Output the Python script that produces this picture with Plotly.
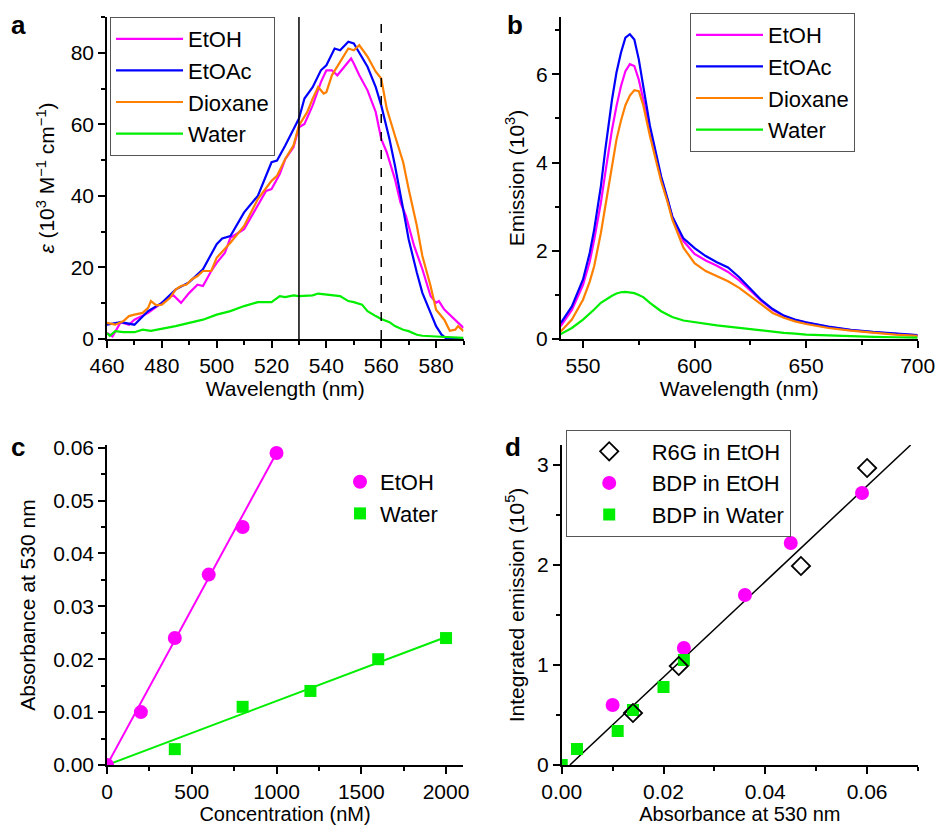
import plotly.graph_objects as go

# ---------------- Panel a: absorption spectra ----------------
a_etoac_x = [460, 465, 470, 475, 480, 485, 490, 495, 500, 502, 505, 510, 515, 520, 522, 525, 530, 532, 535, 538, 540, 543, 545, 548, 550, 553, 555, 558, 560, 563, 565, 568, 570, 573, 575, 578, 580, 582, 584, 587, 590]
a_etoac_y = [4.0, 4.7, 4.0, 7.8, 10.1, 13.8, 15.9, 19.5, 26.5, 28.1, 28.8, 35.4, 40.0, 49.4, 49.9, 54.1, 61.6, 67.2, 70.4, 75.1, 76.5, 81.2, 80.7, 83.1, 82.6, 78.9, 76.1, 70.4, 65.3, 55.9, 48.5, 36.3, 27.9, 18.5, 12.9, 7.3, 3.6, 1.2, 0.0, 0.0, 0.0]

a_etoh_x = [460, 462, 465, 468, 470, 475, 480, 484, 487, 490, 493, 495, 498, 500, 503, 505, 510, 515, 518, 520, 523, 525, 528, 530, 532, 535, 538, 540, 542, 544, 546, 549, 550, 552, 555, 558, 560, 562, 565, 567, 569, 572, 575, 578, 580, 581, 583, 585, 587, 590]
a_etoh_y = [1.7, 0.7, 4.7, 4.0, 5.4, 7.3, 10.1, 12.4, 10.1, 12.9, 15.2, 14.8, 19.0, 21.3, 24.1, 28.3, 30.7, 37.2, 41.4, 41.9, 46.1, 50.3, 53.6, 59.2, 60.1, 65.3, 71.8, 75.1, 75.1, 73.7, 75.6, 78.4, 77.0, 73.7, 69.5, 63.4, 55.9, 52.2, 44.7, 38.2, 34.4, 26.0, 19.5, 12.0, 10.1, 10.6, 8.2, 6.8, 5.4, 3.1]

a_diox_x = [460, 463, 466, 468, 470, 473, 475, 476, 478, 480, 483, 485, 487, 489, 491, 493, 495, 498, 500, 505, 510, 515, 520, 522, 525, 528, 530, 533, 535, 537, 539, 540, 542, 545, 548, 550, 552, 555, 558, 560, 562, 565, 568, 570, 573, 575, 578, 580, 583, 585, 587, 588, 590]
a_diox_y = [4.5, 4.0, 5.0, 6.4, 6.8, 7.3, 8.7, 10.6, 9.4, 9.6, 11.5, 13.8, 14.8, 15.2, 16.7, 17.6, 19.0, 19.0, 22.7, 26.9, 31.6, 39.1, 44.2, 45.6, 50.3, 54.1, 59.7, 63.4, 67.2, 70.4, 68.6, 69.0, 73.7, 77.5, 81.2, 80.7, 82.1, 78.9, 74.7, 72.8, 64.4, 56.8, 49.4, 41.9, 31.6, 23.2, 14.8, 8.2, 5.4, 2.3, 2.6, 3.6, 2.2]

a_water_x = [460, 461, 463, 466, 470, 473, 476, 480, 485, 490, 495, 500, 505, 510, 515, 520, 523, 525, 528, 530, 535, 537, 540, 545, 548, 550, 553, 555, 558, 560, 563, 565, 568, 570, 573, 575, 580, 585, 590]
a_water_y = [1.7, 0.9, 2.2, 1.9, 1.9, 2.6, 2.3, 2.8, 3.6, 4.5, 5.4, 6.8, 7.8, 9.2, 10.3, 10.3, 12.0, 11.7, 12.2, 12.0, 12.2, 12.7, 12.4, 12.0, 10.6, 10.3, 9.6, 7.8, 6.4, 5.6, 4.7, 3.6, 2.6, 2.2, 1.2, 0.9, 0.7, 0.6, 0.3]

a_excitation_lines = [530, 560]   # solid, dashed

# ---------------- Panel b: emission spectra ----------------
b_x = [540, 545, 550, 553, 555, 558, 560, 563, 565, 567, 569, 571, 573, 575, 577, 580, 583, 585, 588, 590, 595, 600, 605, 610, 615, 620, 625, 630, 635, 640, 645, 650, 660, 670, 680, 690, 700]
b_etoac = [0.36, 0.74, 1.35, 1.95, 2.48, 3.46, 4.30, 5.43, 6.04, 6.49, 6.83, 6.91, 6.79, 6.34, 5.73, 4.83, 4.15, 3.69, 3.16, 2.78, 2.28, 2.06, 1.88, 1.74, 1.62, 1.40, 1.14, 0.88, 0.68, 0.53, 0.44, 0.38, 0.28, 0.21, 0.16, 0.12, 0.09]
b_etoh = [0.29, 0.66, 1.23, 1.75, 2.25, 3.09, 3.77, 4.75, 5.28, 5.73, 6.07, 6.23, 6.19, 5.88, 5.43, 4.67, 4.07, 3.65, 3.12, 2.78, 2.22, 1.93, 1.78, 1.66, 1.52, 1.33, 1.10, 0.86, 0.66, 0.52, 0.43, 0.37, 0.27, 0.20, 0.15, 0.11, 0.08]
b_diox = [0.17, 0.44, 0.89, 1.30, 1.65, 2.40, 3.01, 3.92, 4.52, 4.95, 5.30, 5.52, 5.64, 5.62, 5.30, 4.60, 3.99, 3.58, 3.09, 2.71, 2.07, 1.72, 1.54, 1.42, 1.31, 1.16, 0.97, 0.78, 0.59, 0.48, 0.40, 0.34, 0.25, 0.19, 0.14, 0.10, 0.07]
b_water = [0.11, 0.25, 0.44, 0.57, 0.67, 0.82, 0.89, 0.98, 1.03, 1.06, 1.07, 1.06, 1.04, 1.00, 0.95, 0.82, 0.70, 0.63, 0.55, 0.50, 0.42, 0.38, 0.34, 0.31, 0.28, 0.25, 0.22, 0.19, 0.16, 0.14, 0.12, 0.10, 0.08, 0.06, 0.05, 0.04, 0.03]

# ---------------- Panel c: absorbance vs concentration ----------------
c_etoh_conc = [0, 200, 400, 600, 800, 1000]
c_etoh_abs = [0.0, 0.010, 0.024, 0.036, 0.045, 0.059]
c_water_conc = [400, 800, 1200, 1600, 2000]
c_water_abs = [0.003, 0.011, 0.014, 0.020, 0.024]
c_etoh_slope = 5.9e-5
c_water_slope = 1.21e-5

# ---------------- Panel d: integrated emission vs absorbance ----------------
d_r6g_abs = [0.014, 0.023, 0.047, 0.060]
d_r6g_em = [0.52, 0.99, 1.99, 2.97]
d_bdp_etoh_abs = [0.010, 0.024, 0.036, 0.045, 0.059]
d_bdp_etoh_em = [0.60, 1.17, 1.70, 2.22, 2.72]
d_bdp_water_abs = [0.0, 0.003, 0.011, 0.014, 0.020, 0.024]
d_bdp_water_em = [0.0, 0.16, 0.34, 0.55, 0.78, 1.05]
d_fit_slope = 47.8
d_fit_intercept = -0.077

MAG = "#FF00FF"
BLUE = "#0000FF"
ORANGE = "#FF8000"
GREEN = "#00EE00"
FONT = "Liberation Sans, Arial, sans-serif"

W, H = 938, 826
MB = 20                 # bottom margin (room for bottom axis titles)
PH = H - MB             # plot-area height


def dx(p0, p1):
    return [p0 / W, p1 / W]


def dy(top, bottom):
    return [(PH - bottom) / PH, (PH - top) / PH]


def py(pix):
    return (PH - pix) / PH


fig = go.Figure()

# panel a
for name, xs, ys, col in [("EtOH", a_etoh_x, a_etoh_y, MAG),
                           ("EtOAc", a_etoac_x, a_etoac_y, BLUE),
                           ("Dioxane", a_diox_x, a_diox_y, ORANGE),
                           ("Water", a_water_x, a_water_y, GREEN)]:
    fig.add_trace(go.Scatter(x=xs, y=ys, mode="lines", name=name,
                             line=dict(color=col, width=2.2),
                             xaxis="x", yaxis="y", legend="legend"))

# panel b
for name, ys, col in [("EtOH", b_etoh, MAG), ("EtOAc", b_etoac, BLUE),
                      ("Dioxane", b_diox, ORANGE), ("Water", b_water, GREEN)]:
    fig.add_trace(go.Scatter(x=b_x, y=ys, mode="lines", name=name,
                             line=dict(color=col, width=2.2),
                             xaxis="x2", yaxis="y2", legend="legend2"))

# panel c fit lines
fig.add_trace(go.Scatter(x=[0, c_etoh_conc[-1]], y=[0, c_etoh_slope * c_etoh_conc[-1]],
                         mode="lines", line=dict(color=MAG, width=2), showlegend=False,
                         xaxis="x3", yaxis="y3"))
fig.add_trace(go.Scatter(x=[0, c_water_conc[-1]], y=[0, c_water_slope * c_water_conc[-1]],
                         mode="lines", line=dict(color=GREEN, width=2), showlegend=False,
                         xaxis="x3", yaxis="y3"))
fig.add_trace(go.Scatter(x=c_etoh_conc, y=c_etoh_abs, mode="markers", name="EtOH",
                         marker=dict(symbol="circle", size=14, color=MAG),
                         xaxis="x3", yaxis="y3", legend="legend3"))
fig.add_trace(go.Scatter(x=c_water_conc, y=c_water_abs, mode="markers", name="Water",
                         marker=dict(symbol="square", size=12, color=GREEN),
                         xaxis="x3", yaxis="y3", legend="legend3"))

# panel d
d_ymax = 3.2
fig.add_trace(go.Scatter(x=[(0 - d_fit_intercept) / d_fit_slope, (d_ymax - d_fit_intercept) / d_fit_slope],
                         y=[0, d_ymax], mode="lines", line=dict(color="black", width=1.5),
                         showlegend=False, xaxis="x4", yaxis="y4"))
fig.add_trace(go.Scatter(x=d_bdp_etoh_abs, y=d_bdp_etoh_em, mode="markers", name="BDP in EtOH",
                         marker=dict(symbol="circle", size=14, color=MAG), legendrank=2,
                         xaxis="x4", yaxis="y4", legend="legend4"))
fig.add_trace(go.Scatter(x=d_bdp_water_abs, y=d_bdp_water_em, mode="markers", name="BDP in Water",
                         marker=dict(symbol="square", size=12, color=GREEN), legendrank=3,
                         xaxis="x4", yaxis="y4", legend="legend4"))
fig.add_trace(go.Scatter(x=d_r6g_abs, y=d_r6g_em, mode="markers", name="R6G in EtOH",
                         marker=dict(symbol="diamond-open", size=14, color="black", line=dict(width=1.8)),
                         legendrank=1, xaxis="x4", yaxis="y4", legend="legend4"))

# vertical lines in panel a
for xv, dash in zip(a_excitation_lines, ["solid", "dash"]):
    fig.add_shape(type="line", xref="x", yref="y domain", x0=xv, x1=xv, y0=0, y1=1,
                  line=dict(color="black", width=1.5, dash=dash))


def axis(domain, rng, dtick, minor, title, standoff, anchor, fmt=None, tsize=21):
    d = dict(domain=domain, range=rng, dtick=dtick, tick0=0, anchor=anchor, automargin=False,
             showline=True, linecolor="black", linewidth=1.5, mirror=False,
             ticks="outside", ticklen=7, tickwidth=1.5, tickcolor="black",
             minor=dict(dtick=minor, ticks="outside", ticklen=4, tickwidth=1.5, tickcolor="black"),
             showgrid=False, zeroline=False,
             tickfont=dict(size=21, color="black", family=FONT),
             title=dict(text=title, font=dict(size=tsize, color="black", family=FONT), standoff=standoff))
    if fmt:
        d["tickformat"] = fmt
    return d


leg_common = dict(bgcolor="rgba(255,255,255,0)", font=dict(size=22, color="black", family=FONT),
                  xanchor="left", yanchor="top", tracegroupgap=0)

ROW2_TOP, ROW2_BOT = 445, 765

fig.update_layout(
    width=W, height=H, margin=dict(l=0, r=0, t=0, b=MB),
    paper_bgcolor="white", plot_bgcolor="white",
    font=dict(family=FONT, color="black"),
    xaxis=axis(dx(107, 463.5), [460, 590], 20, 10, "Wavelength (nm)", 2, "y"),
    yaxis=axis(dy(17, 339), [0, 90], 20, 10,
               "<i>ε</i> (10<sup>3</sup> M<sup>−1</sup> cm<sup>−1</sup>)", 10, "x"),
    xaxis2=axis(dx(560.7, 917.7), [540, 700], 50, 25, "Wavelength (nm)", 2, "y2"),
    yaxis2=axis(dy(17, 339), [0, 7.3], 2, 1, "Emission (10<sup>3</sup>)", 6, "x2"),
    xaxis3=axis(dx(107, 463), [0, 2100], 500, 250, "Concentration (nM)", 2, "y3", tsize=20),
    yaxis3=axis(dy(ROW2_TOP, ROW2_BOT), [0, 0.0605], 0.01, 0.005, "Absorbance at 530 nm", 12, "x3", ".2f"),
    xaxis4=axis(dx(561.7, 918), [0, 0.07], 0.02, 0.01, "Absorbance at 530 nm", 2, "y4", ".2f", tsize=20),
    yaxis4=axis(dy(ROW2_TOP, ROW2_BOT), [0, d_ymax], 1, 0.5, "Integrated emission (10<sup>5</sup>)", 7, "x4"),
    legend=dict(x=110 / W, y=py(17), bordercolor="#555", borderwidth=1, itemwidth=67, **leg_common),
    legend2=dict(x=690 / W, y=py(13), bordercolor="#555", borderwidth=1, itemwidth=67, **leg_common),
    legend3=dict(x=340 / W, y=py(461), borderwidth=0, itemwidth=30, **leg_common),
    legend4=dict(x=565.7 / W, y=py(429.5), bordercolor="#555", borderwidth=1, itemwidth=75, **leg_common),
)

for label, lx, ly in [("a", 18, 25), ("b", 515, 25), ("c", 18, 447), ("d", 513, 447)]:
    fig.add_annotation(text="<b>%s</b>" % label, xref="paper", yref="paper",
                       x=lx / W, y=py(ly), showarrow=False, xanchor="center", yanchor="middle",
                       font=dict(size=26, color="black", family=FONT))

fig.write_html("out.html", config={"displayModeBar": False},
               post_script="document.body.style.margin='0px';document.body.style.overflow='hidden';")
